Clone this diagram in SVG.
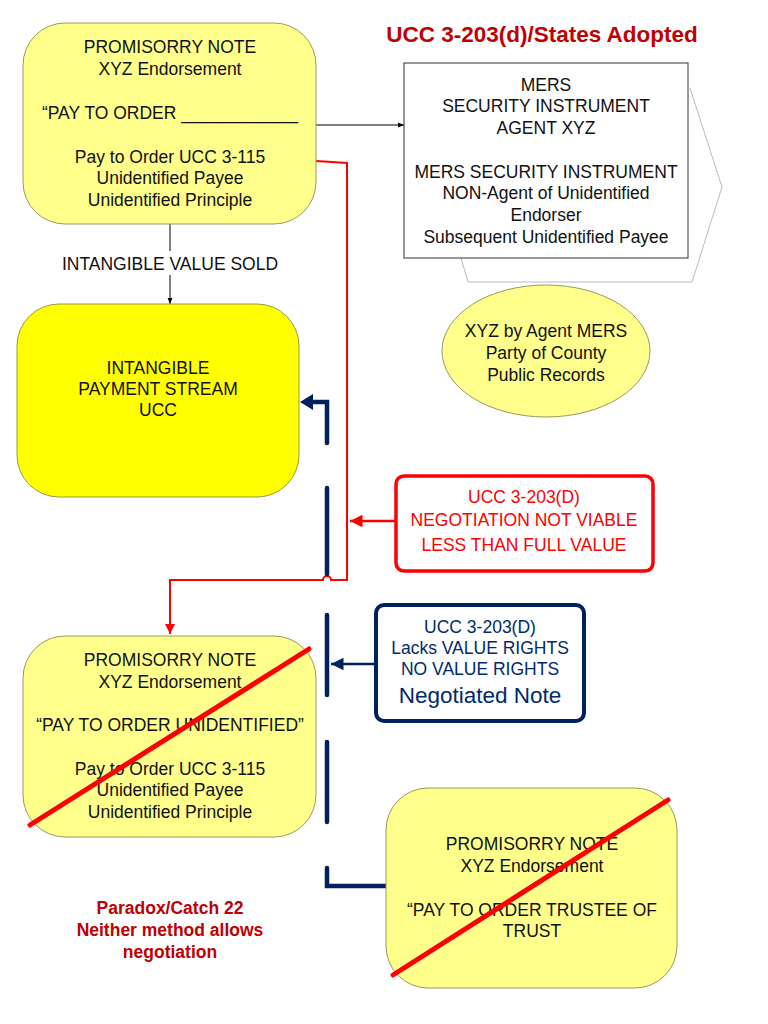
<svg xmlns="http://www.w3.org/2000/svg" width="768" height="1024" viewBox="0 0 768 1024">
<defs>
<style>
text{font-family:"Liberation Sans",Arial,sans-serif;font-size:17.5px;fill:#111;text-anchor:middle}
.note{fill:#ffff8c;stroke:#9a9a5a;stroke-width:1}
.strong{fill:#ffff00;stroke:#9a9a40;stroke-width:1}
.title{font-weight:bold;fill:#c00000}
.red{fill:#ff0000}
.navy{fill:#002a6e}
.cross{stroke:#ff0000;stroke-width:5;stroke-linecap:round}
.blue{stroke:#002060;stroke-width:4.5;stroke-linecap:round;fill:none}
</style>
<marker id="ab" viewBox="0 0 10 10" refX="10" refY="5" markerWidth="6" markerHeight="6" orient="auto"><path d="M0,1 L10,5 L0,9 z" fill="#000"/></marker>
<marker id="ar" viewBox="0 0 10 10" refX="10" refY="5" markerWidth="5" markerHeight="5" orient="auto"><path d="M0,0 L10,5 L0,10 z" fill="#ff0000"/></marker>
<marker id="an" viewBox="0 0 10 10" refX="10" refY="5" markerWidth="5" markerHeight="5" orient="auto"><path d="M0,0 L10,5 L0,10 z" fill="#002060"/></marker>
</defs>
<rect width="768" height="1024" fill="#fff"/>

<text class="title" x="542" y="42" style="font-size:22.5px">UCC 3-203(d)/States Adopted</text>

<g id="connectors">
<line x1="316" y1="125" x2="404" y2="125" stroke="#000" stroke-width="1" marker-end="url(#ab)"/>
<line x1="170" y1="224" x2="170" y2="251" stroke="#000" stroke-width="1"/>
<line x1="170" y1="275" x2="170" y2="304" stroke="#000" stroke-width="1" marker-end="url(#ab)"/>
<text x="170" y="270">INTANGIBLE VALUE SOLD</text>
<path d="M316,161 L347,163 L347,580 L331,580 A4,4 0 0 0 323,580 L170,580 L170,634" fill="none" stroke="#ff0000" stroke-width="2" marker-end="url(#ar)"/>
<line x1="396" y1="521" x2="350" y2="521" stroke="#ff0000" stroke-width="2.5" marker-end="url(#ar)"/>
<path class="blue" d="M327,443 L327,402 L310,402"/>
<path d="M313,394 L300,402 L313,410 z" fill="#002060"/>
<line class="blue" x1="327" y1="488" x2="327" y2="574"/>
<line class="blue" x1="327" y1="615" x2="327" y2="695"/>
<line class="blue" x1="327" y1="742" x2="327" y2="822"/>
<path class="blue" d="M327,868 L327,886 L386,886"/>
<line x1="376" y1="664" x2="331" y2="664" stroke="#002060" stroke-width="2.5" marker-end="url(#an)"/>
</g>

<g id="note1">
<rect class="note" x="23" y="23" width="293" height="201" rx="42"/>
<text x="170" y="53">PROMISORRY NOTE</text>
<text x="170" y="75">XYZ Endorsement</text>
<text x="170" y="119">“PAY TO ORDER ____________</text>
<text x="170" y="163">Pay to Order UCC 3-115</text>
<text x="170" y="184">Unidentified Payee</text>
<text x="170" y="206">Unidentified Principle</text>
</g>

<g id="mers">
<path d="M690,88 L722,187 L692,282 L468,282 L461,258" fill="#fff" stroke="#bbb" stroke-width="1"/>
<rect x="404" y="63" width="284" height="195" fill="#fff" stroke="#333" stroke-width="1"/>
<text x="546" y="91">MERS</text>
<text x="546" y="112">SECURITY INSTRUMENT</text>
<text x="546" y="134">AGENT XYZ</text>
<text x="546" y="178">MERS SECURITY INSTRUMENT</text>
<text x="546" y="199">NON-Agent of Unidentified</text>
<text x="546" y="221">Endorser</text>
<text x="546" y="243">Subsequent Unidentified Payee</text>
</g>

<g id="county">
<ellipse class="note" cx="546" cy="351" rx="104" ry="66"/>
<text x="546" y="337">XYZ by Agent MERS</text>
<text x="546" y="359">Party of County</text>
<text x="546" y="381">Public Records</text>
</g>

<g id="stream">
<rect class="strong" x="17" y="304" width="282" height="193" rx="42"/>
<text x="158" y="374">INTANGIBLE</text>
<text x="158" y="395">PAYMENT STREAM</text>
<text x="158" y="416">UCC</text>
</g>

<g id="notviable">
<rect x="396" y="476" width="257" height="95" rx="8" fill="#fff" stroke="#ff0000" stroke-width="3.5"/>
<text class="red" x="524" y="503">UCC 3-203(D)</text>
<text class="red" x="524" y="526">NEGOTIATION NOT VIABLE</text>
<text class="red" x="524" y="551">LESS THAN FULL VALUE</text>
</g>

<g id="lacks">
<rect x="376" y="605" width="208" height="116" rx="8" fill="#fff" stroke="#002060" stroke-width="4"/>
<text class="navy" x="480" y="633">UCC 3-203(D)</text>
<text class="navy" x="480" y="654">Lacks VALUE RIGHTS</text>
<text class="navy" x="480" y="675">NO VALUE RIGHTS</text>
<text class="navy" x="480" y="703" style="font-size:22.5px">Negotiated Note</text>
</g>

<g id="note2">
<rect class="note" x="23" y="636" width="293" height="201" rx="42"/>
<text x="170" y="666">PROMISORRY NOTE</text>
<text x="170" y="688">XYZ Endorsement</text>
<text x="170" y="731">“PAY TO ORDER UNIDENTIFIED”</text>
<text x="170" y="775">Pay to Order UCC 3-115</text>
<text x="170" y="796">Unidentified Payee</text>
<text x="170" y="818">Unidentified Principle</text>
<line class="cross" x1="30" y1="825" x2="309" y2="649"/>
</g>

<g id="note3">
<rect class="note" x="386" y="788" width="291" height="200" rx="42"/>
<text x="532" y="850">PROMISORRY NOTE</text>
<text x="532" y="872">XYZ Endorsement</text>
<text x="532" y="916">“PAY TO ORDER TRUSTEE OF</text>
<text x="532" y="937">TRUST</text>
<line class="cross" x1="393" y1="975" x2="668" y2="800"/>
</g>

<g id="paradox">
<text class="title" x="170" y="914">Paradox/Catch 22</text>
<text class="title" x="170" y="936">Neither method allows</text>
<text class="title" x="170" y="958">negotiation</text>
</g>
</svg>
